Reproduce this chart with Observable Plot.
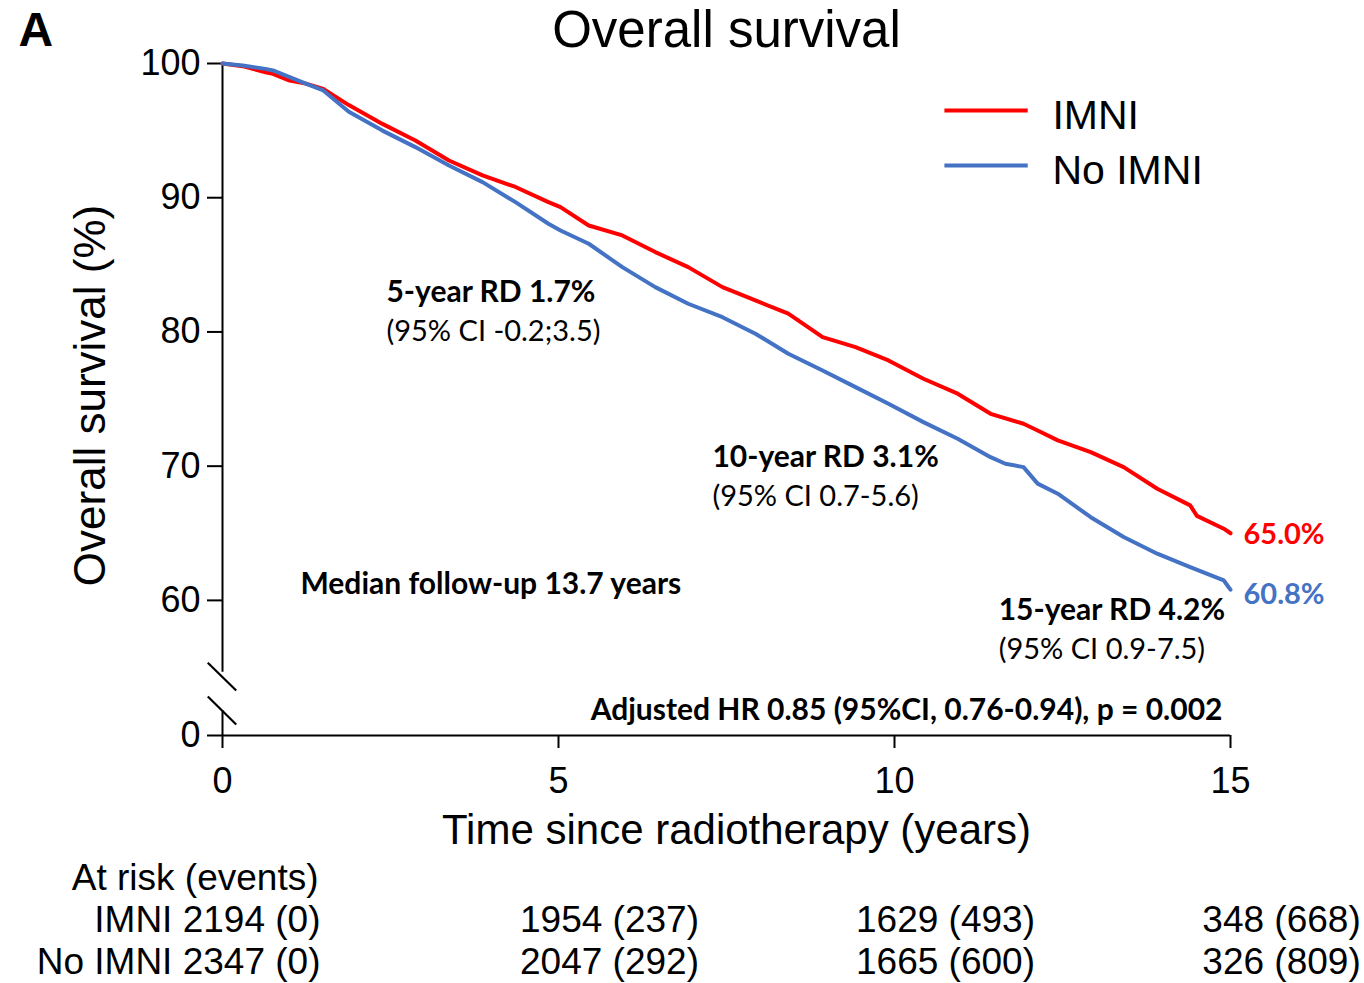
<!DOCTYPE html>
<html>
<head>
<meta charset="utf-8">
<script src="https://cdn.jsdelivr.net/npm/d3@7"></script>
<script src="https://cdn.jsdelivr.net/npm/@observablehq/plot@0.6"></script>
<style>
  html, body { margin: 0; padding: 0; background: #fff; }
  #chart svg { display: block; }
</style>
</head>
<body>
<div id="chart"></div>
<script>
// ---- Data ----
const groups = ["IMNI", "No IMNI"];
const groupColors = ["#FF0000", "#4472C4"];

const imniTime = [0, 0.3, 0.64, 0.75, 1.0, 1.24, 1.5, 1.88, 2.38, 2.87, 3.37, 3.87, 4.36, 4.85, 5.03, 5.45, 5.95, 6.44, 6.93, 7.44, 7.93, 8.42, 8.93, 9.42, 9.91, 10.43, 10.94, 11.43, 11.92, 12.13, 12.43, 12.92, 13.41, 13.91, 14.4, 14.5, 14.9, 15.0];
const imniSurv = [100, 99.8, 99.35, 99.23, 98.73, 98.5, 98.1, 96.9, 95.5, 94.26, 92.77, 91.66, 90.8, 89.67, 89.3, 87.93, 87.19, 85.95, 84.83, 83.34, 82.35, 81.36, 79.61, 78.87, 77.88, 76.51, 75.4, 73.9, 73.16, 72.66, 71.92, 71.05, 69.93, 68.32, 67.08, 66.3, 65.34, 65.0];

const noImniTime = [0, 0.3, 0.64, 0.75, 1.0, 1.24, 1.5, 1.88, 2.38, 2.87, 3.37, 3.87, 4.36, 4.85, 5.03, 5.45, 5.95, 6.44, 6.93, 7.44, 7.93, 8.42, 8.93, 9.42, 9.91, 10.43, 10.94, 11.43, 11.65, 11.92, 12.13, 12.43, 12.92, 13.41, 13.91, 14.4, 14.9, 14.97, 15.0];
const noImniSurv = [100, 99.85, 99.6, 99.48, 98.98, 98.5, 97.99, 96.4, 95.0, 93.77, 92.4, 91.16, 89.67, 88.06, 87.56, 86.57, 84.83, 83.34, 82.1, 81.1, 79.87, 78.38, 77.13, 75.89, 74.65, 73.28, 72.04, 70.67, 70.18, 69.93, 68.7, 67.95, 66.2, 64.72, 63.48, 62.48, 61.49, 61.0, 60.8];

const endLabels = ["65.0%", "60.8%"];

const yTicks = [0, 60, 70, 80, 90, 100];
const xTicks = [0, 5, 10, 15];

const annText = ["5-year RD 1.7%", "(95% CI -0.2;3.5)", "10-year RD 3.1%", "(95% CI 0.7-5.6)", "15-year RD 4.2%", "(95% CI 0.9-7.5)", "Median follow-up 13.7 years"];
const annX = [2.44, 2.44, 7.29, 7.29, 11.55, 11.55, 1.16];
const annY = [82.94, 80.04, 70.65, 67.75, 59.26, 56.35, 61.2];
const annBold = [true, false, true, false, true, false, true];
const hrText = "Adjusted HR 0.85 (95%CI, 0.76-0.94), p = 0.002";

const atRiskTimes = [0, 5, 10, 15];
const imniAtRisk = [2194, 1954, 1629, 348];
const imniEvents = [0, 237, 493, 668];
const noImniAtRisk = [2347, 2047, 1665, 326];
const noImniEvents = [0, 292, 600, 809];

// ---- Build tables ----
const imniData = imniTime.map((t, i) => ({t, s: imniSurv[i]}));
const noImniData = noImniTime.map((t, i) => ({t, s: noImniSurv[i]}));
const ann = annText.map((text, i) => ({text, x: annX[i], y: annY[i], bold: annBold[i]}));
const riskRows = [
  {label: groups[0], n: imniAtRisk, e: imniEvents},
  {label: groups[1], n: noImniAtRisk, e: noImniEvents}
];
const riskCells = [];
riskRows.forEach((r, row) => atRiskTimes.forEach((t, j) => riskCells.push({row, t, j, text: `${r.n[j]} (${r.e[j]})`, label: r.label})));

const AR = "Liberation Sans, Arial, sans-serif";
const CAL = "Lato, Carlito, Calibri, sans-serif";
const rowDy = [185, 227];

const chart = Plot.plot({
  width: 1364,
  height: 983,
  marginLeft: 222,
  marginRight: 134,
  marginTop: 63,
  marginBottom: 248,
  style: {fontFamily: AR, background: "#fff", color: "#000"},
  x: {domain: [0, 15], range: [222, 1230]},
  y: {type: "linear", domain: [0, 55, 100], range: [735, 667, 63]},
  marks: [
    // axes
    Plot.axisY({ticks: yTicks, tickSize: 15, tickPadding: 7, fontSize: 36, strokeWidth: 2, label: null, fill: "#000"}),
    Plot.axisX({ticks: xTicks, tickSize: 13, tickPadding: 19, fontSize: 36, strokeWidth: 2, label: null, fill: "#000"}),
    Plot.ruleY([0], {x1: 0, x2: 15, strokeWidth: 2}),
    Plot.ruleX([0], {y1: 51.2, y2: 100, strokeWidth: 2}),
    Plot.ruleX([0], {y1: 0, y2: 20.2, strokeWidth: 2}),
    Plot.link([[55.35, 36.4], [31.55, 8.9]], {x1: -0.219, x2: 0.204, y1: d => d[0], y2: d => d[1], strokeWidth: 2.2}),
    // curves
    Plot.line(imniData, {x: "t", y: "s", stroke: groupColors[0], strokeWidth: 4, strokeLinejoin: "round"}),
    Plot.line(noImniData, {x: "t", y: "s", stroke: groupColors[1], strokeWidth: 4, strokeLinejoin: "round"}),
    // end labels
    Plot.text([imniData[imniData.length - 1]], {x: "t", y: "s", text: () => endLabels[0], dx: 13, dy: 1, textAnchor: "start", lineAnchor: "middle", fill: groupColors[0], fontWeight: "bold", fontSize: 29, fontFamily: CAL}),
    Plot.text([noImniData[noImniData.length - 1]], {x: "t", y: "s", text: () => endLabels[1], dx: 13, dy: 5, textAnchor: "start", lineAnchor: "middle", fill: groupColors[1], fontWeight: "bold", fontSize: 29, fontFamily: CAL}),
    // annotations
    Plot.text(ann.filter(d => d.bold), {x: "x", y: "y", text: "text", textAnchor: "start", lineAnchor: "middle", fontWeight: "bold", fontSize: 30, fontFamily: CAL, fill: "#000"}),
    Plot.text(ann.filter(d => !d.bold), {x: "x", y: "y", text: "text", textAnchor: "start", lineAnchor: "middle", fontSize: 29, fontFamily: CAL, fill: "#000"}),
    Plot.text([hrText], {x: 14.88, y: 20.2, text: d => d, textAnchor: "end", lineAnchor: "middle", fontWeight: "bold", fontSize: 30, fontFamily: CAL, fill: "#000"}),
    // legend
    Plot.ruleY([groups[0]], {y: 96.5, x1: 10.75, x2: 11.99, stroke: groupColors[0], strokeWidth: 4}),
    Plot.ruleY([groups[1]], {y: 92.4, x1: 10.75, x2: 11.99, stroke: groupColors[1], strokeWidth: 4}),
    Plot.text([groups[0]], {x: 12.35, y: 96.5, text: d => d, textAnchor: "start", lineAnchor: "middle", fontSize: 41, dy: 5, fill: "#000"}),
    Plot.text([groups[1]], {x: 12.35, y: 92.4, text: d => d, textAnchor: "start", lineAnchor: "middle", fontSize: 41, dy: 5, fill: "#000"}),
    // titles
    Plot.text(["Overall survival"], {frameAnchor: "top", dy: -33, lineAnchor: "middle", textAnchor: "middle", fontSize: 51, fill: "#000"}),
    Plot.text(["A"], {frameAnchor: "top-left", dx: -204, dy: -33, textAnchor: "start", lineAnchor: "middle", fontSize: 48, fontWeight: "bold", fill: "#000"}),
    Plot.text(["Overall survival (%)"], {frameAnchor: "left", dx: -132, dy: -4, rotate: -90, textAnchor: "middle", lineAnchor: "middle", fontSize: 44, fill: "#000"}),
    Plot.text(["Time since radiotherapy (years)"], {frameAnchor: "bottom", dx: 10, dy: 95, textAnchor: "middle", lineAnchor: "middle", fontSize: 42, fill: "#000"}),
    // at-risk table
    Plot.text(["At risk (events)"], {x: 0, frameAnchor: "bottom", dx: 96, dy: 143, textAnchor: "end", lineAnchor: "middle", fontSize: 37, fill: "#000"}),
    ...[0, 1].map(row => Plot.text(riskCells.filter(d => d.row === row && d.j === 0), {x: "t", frameAnchor: "bottom", text: d => `${d.label} ${d.text}`, dx: 98, dy: rowDy[row], textAnchor: "end", lineAnchor: "middle", fontSize: 37, fill: "#000"})),
    ...[0, 1].map(row => Plot.text(riskCells.filter(d => d.row === row && d.j > 0), {x: "t", frameAnchor: "bottom", text: "text", dx: 51, dy: rowDy[row], textAnchor: "middle", lineAnchor: "middle", fontSize: 37, fill: "#000"}))
  ]
});
document.getElementById("chart").appendChild(chart);
</script>
</body>
</html>
